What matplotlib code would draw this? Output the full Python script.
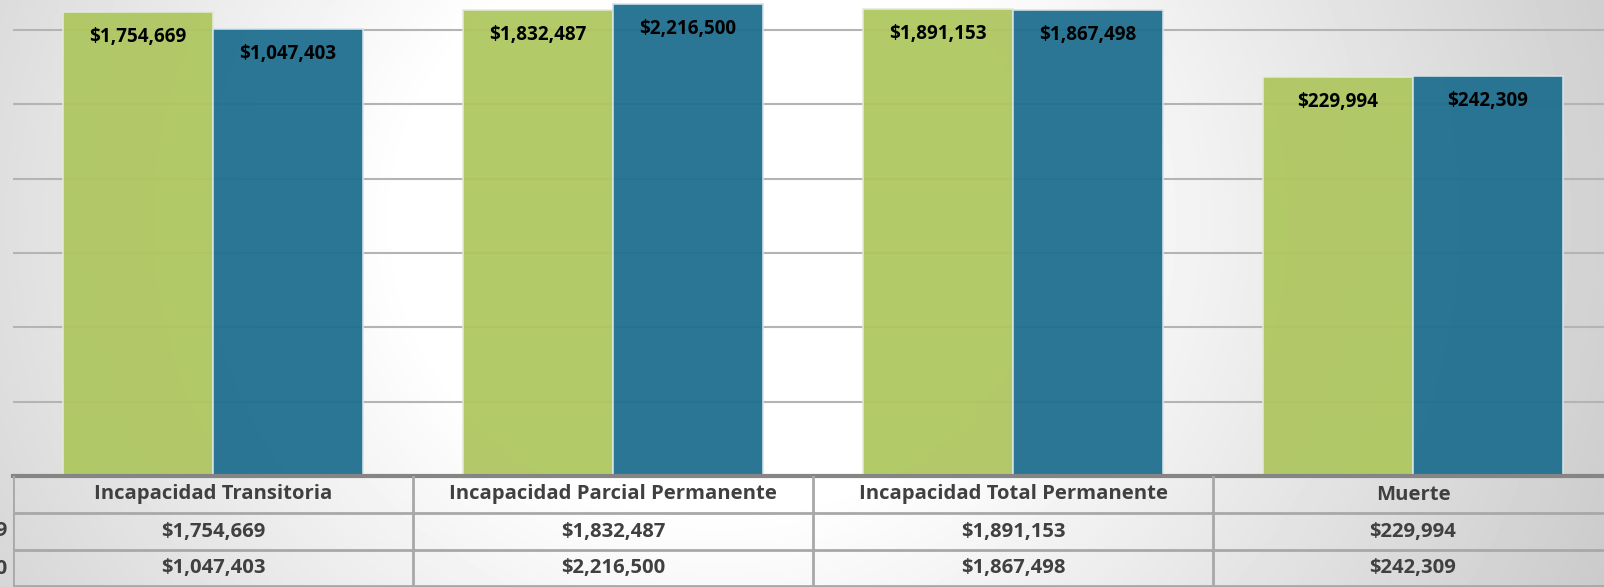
import matplotlib
matplotlib.use("Agg")
import matplotlib.pyplot as plt
import numpy as np

plt.rcParams['font.family'] = ['Open Sans', 'DejaVu Sans']

# Data
categories = ['Incapacidad Transitoria', 'Incapacidad Parcial Permanente',
              'Incapacidad Total Permanente', 'Muerte']
series_names = ['2019', '2020']
values_2019 = [1754669, 1832487, 1891153, 229994]
values_2020 = [1047403, 2216500, 1867498, 242309]

colors = ['#afc761', '#1f6f8f']

W, H = 1604, 587
fig = plt.figure(figsize=(W / 100, H / 100), dpi=100)

# Radial grey background
bg = fig.add_axes([0, 0, 1, 1], zorder=-10)
yy, xx = np.mgrid[0:H, 0:W]
r = np.sqrt(((xx - 720) / 1.0) ** 2 + ((yy - 220) / 0.9) ** 2)
shade = 1 - 0.19 * np.clip((r - 320) / 600, 0, 1.2)
bg.imshow(shade, cmap='gray', vmin=0, vmax=1, aspect='auto', extent=[0, W, H, 0])
bg.axis('off')

# Bar chart (log scale), cropped at left and right
left = 13 / W
width = 1600 / W
table_h = 111 / H
ax = fig.add_axes([left, table_h, width, 1 - table_h])
ax.set_facecolor('none')
ax.set_yscale('log')
ax.set_ylim(1, 10 ** 6.404)
ax.set_xlim(-0.5, 3.5)

for d in range(0, 7):
    ax.axhline(10 ** d, color='#b4b4b4', lw=1.5, zorder=1)

x = np.arange(len(categories))
bw = 0.375
for k, (vals, c) in enumerate(zip([values_2019, values_2020], colors)):
    xs = x + (k - 0.5) * bw
    ax.bar(xs, vals, width=bw, bottom=1, color=c, alpha=0.95,
           edgecolor='#e4ead8' if k == 0 else '#d6e4ea', linewidth=1.2, zorder=2)
    for xi, v in zip(xs, vals):
        ax.annotate(f'${v:,.0f}', (xi, v), xytext=(0, -25), textcoords='offset pixels',
                    ha='center', va='center', fontsize=13.6, fontweight='bold',
                    color='black', zorder=3)

for s in ax.spines.values():
    s.set_visible(False)
ax.set_xticks([])
ax.set_yticks([])
ax.minorticks_off()

# Data table under the chart
tab = fig.add_axes([left, 0, width, table_h])
tab.set_facecolor('none')
tab.set_xlim(-0.5, 3.5)
tab.set_ylim(0, 3)
tab.axis('off')
tab.axhline(3, color='#858585', lw=3, clip_on=False)
for yl in [2, 1, 0.02]:
    tab.axhline(yl, color='#a8a8a8', lw=2)
for xl in [-0.5, 0.5, 1.5, 2.5]:
    tab.axvline(xl, color='#a8a8a8', lw=2)

txt = dict(ha='center', va='center', fontsize=14.6, fontweight='bold', color='#404040')
for i, cat in enumerate(categories):
    tab.text(i, 2.5, cat, **txt)
    tab.text(i, 1.5, f'${values_2019[i]:,.0f}', **txt)
    tab.text(i, 0.5, f'${values_2020[i]:,.0f}', **txt)

# Series labels, cut off by the left edge of the picture (as in the source crop)
for j, name in enumerate(series_names):
    fig.text(8 / W, (111 - 37 * (j + 1.5)) / H, name, ha='right', va='center',
             fontsize=14.6, fontweight='bold', color='#404040')

fig.savefig('out.png', dpi=100)
